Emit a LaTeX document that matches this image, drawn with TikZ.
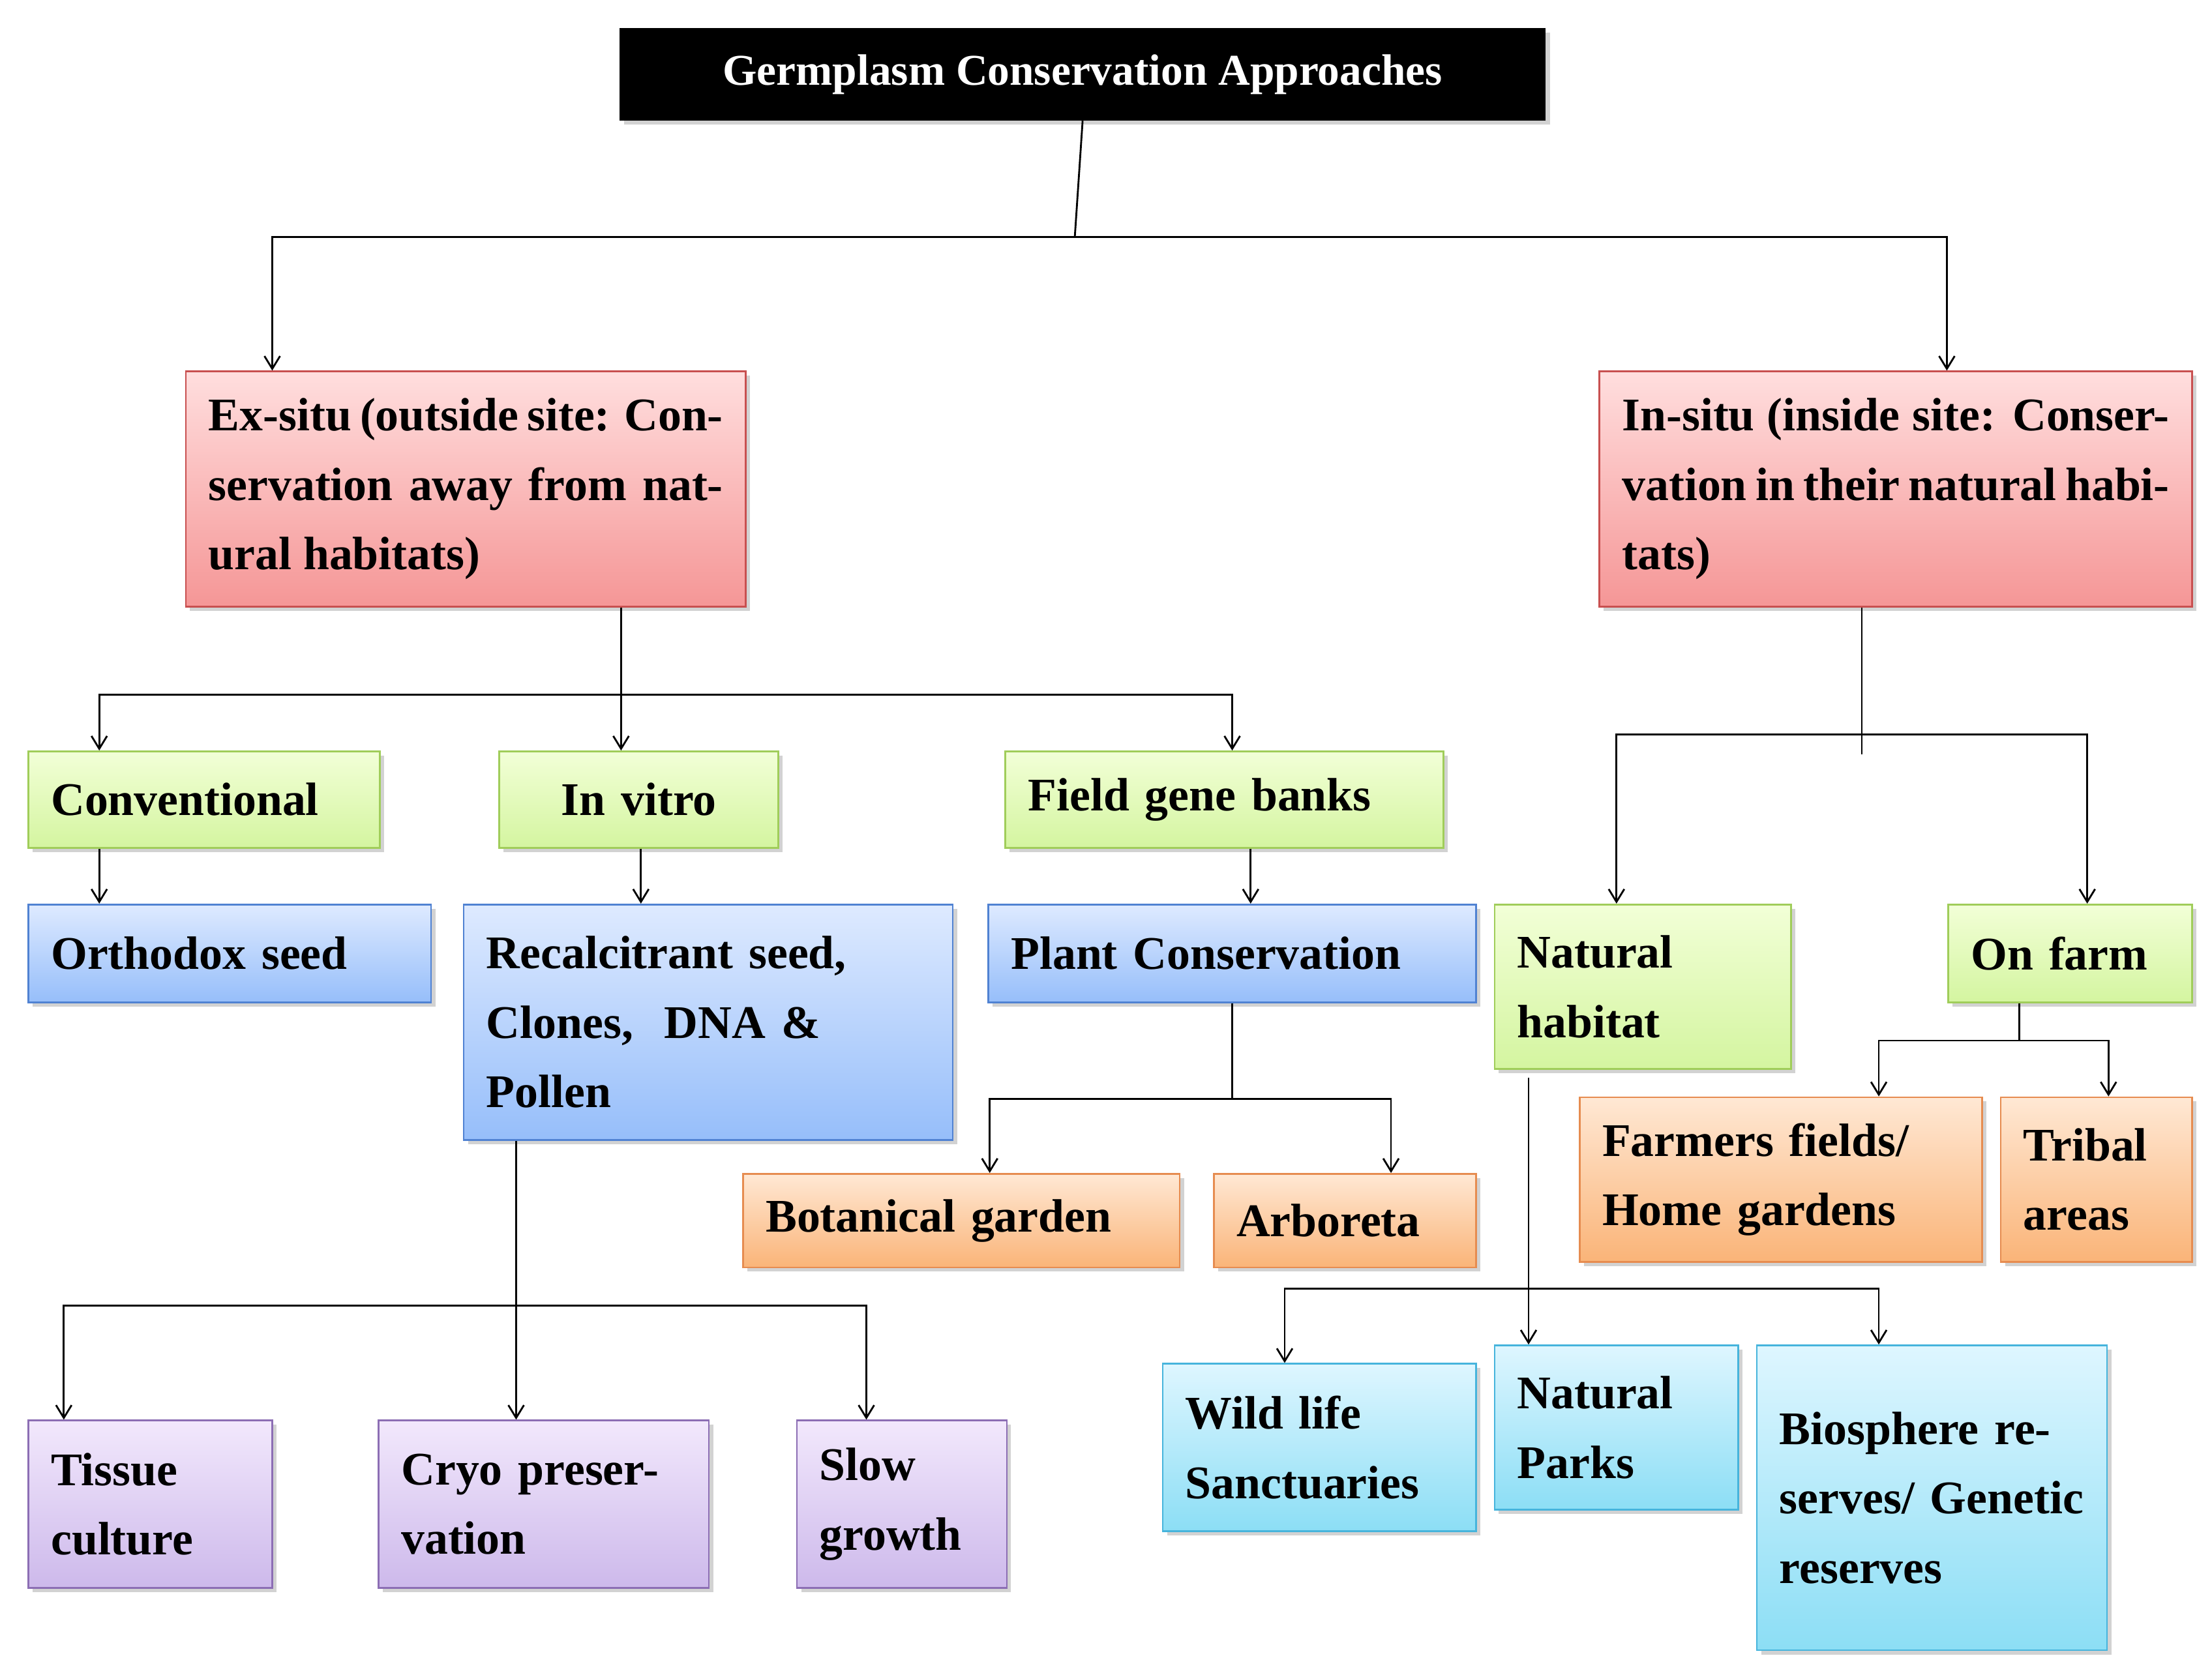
\documentclass[tikz,border=0pt]{standalone}
\usepackage{fontspec}
\setmainfont{Liberation Serif}
\usetikzlibrary{arrows.meta,shadows}
\definecolor{rT}{RGB}{255,222,222}\definecolor{rB}{RGB}{245,150,150}\definecolor{rD}{RGB}{200,80,80}
\definecolor{gT}{RGB}{242,255,215}\definecolor{gB}{RGB}{212,245,160}\definecolor{gD}{RGB}{160,205,90}
\definecolor{bT}{RGB}{222,234,255}\definecolor{bB}{RGB}{150,190,250}\definecolor{bD}{RGB}{80,130,210}
\definecolor{oT}{RGB}{255,232,212}\definecolor{oB}{RGB}{250,180,120}\definecolor{oD}{RGB}{230,140,80}
\definecolor{pT}{RGB}{242,232,252}\definecolor{pB}{RGB}{205,185,235}\definecolor{pD}{RGB}{140,110,180}
\definecolor{cT}{RGB}{222,246,255}\definecolor{cB}{RGB}{140,222,245}\definecolor{cD}{RGB}{70,180,220}
\tikzset{
 base/.style={rectangle,line width=1.2pt,font=\fontsize{33}{49}\selectfont\bfseries,inner xsep=16pt,inner ysep=4pt,drop shadow={shadow xshift=3pt,shadow yshift=-3pt,opacity=0.35}},
 red/.style={base,draw=rD,top color=rT,bottom color=rB},
 grn/.style={base,draw=gD,top color=gT,bottom color=gB},
 blu/.style={base,draw=bD,top color=bT,bottom color=bB},
 org/.style={base,draw=oD,top color=oT,bottom color=oB},
 pur/.style={base,draw=pD,top color=pT,bottom color=pB},
 cya/.style={base,draw=cD,top color=cT,bottom color=cB},
 arr/.style={line width=1.3pt,-{Straight Barb[length=9pt,width=11pt]}},
 ln/.style={line width=1.3pt}
}
\newcommand\bx[8][left]{%
 \pgfmathsetmacro\cx{(#4+#6)/2}\pgfmathsetmacro\cy{(#5+#7)/2}%
 \pgfmathsetmacro\ww{#6-#4}\pgfmathsetmacro\hh{#7-#5}\pgfmathsetmacro\tw{#6-#4-32}%
 \node[#3,minimum width=\ww pt,minimum height=\hh pt,text width=\tw pt,align=#1] (#2) at (\cx,\cy) {#8};}
\begin{document}
\begin{tikzpicture}[x=1pt,y=-1pt]
\useasboundingbox[fill=white] (0,0) rectangle (1560,1180);
\node[fill=black,text=white,minimum width=653pt,minimum height=65pt,font=\fontsize{31}{37}\selectfont\bfseries,drop shadow={shadow xshift=3pt,shadow yshift=-3pt,opacity=0.35}] (title) at (763.5,52.5) {Germplasm Conservation Approaches};
\bx[justify]{exsitu}{red}{131}{262}{526}{428}{Ex-situ (outside site: Conservation away from~natural~habitats)}
\bx[justify]{insitu}{red}{1128}{262}{1546}{428}{In-situ (inside site: Conservation in their natural habitats)}
\bx{conv}{grn}{20}{530}{268}{598}{Conventional}
\bx[center]{invitro}{grn}{352}{530}{549}{598}{In vitro}
\bx{field}{grn}{709}{530}{1018}{598}{Field gene banks}
\bx{ortho}{blu}{20}{638}{304}{707}{Orthodox seed}
\bx{recal}{blu}{327}{638}{672}{804}{Recalcitrant seed, Clones,\ \ DNA \& Pollen}
\bx{plant}{blu}{697}{638}{1041}{707}{Plant Conservation}
\bx{nathab}{grn}{1054}{638}{1263}{754}{Natural habitat}
\bx{onfarm}{grn}{1374}{638}{1546}{707}{On farm}
\bx{botan}{org}{524}{828}{832}{894}{Botanical garden}
\bx{arbor}{org}{856}{828}{1041}{894}{Arboreta}
\bx{farm}{org}{1114}{774}{1398}{890}{Farmers fields/ Home gardens}
\bx{tribal}{org}{1411}{774}{1546}{890}{Tribal areas}
\bx{tissue}{pur}{20}{1002}{192}{1120}{Tissue culture}
\bx{cryo}{pur}{267}{1002}{500}{1120}{Cryo preservation}
\bx{slow}{pur}{562}{1002}{710}{1120}{Slow growth}
\bx{wild}{cya}{820}{962}{1041}{1080}{Wild life Sanctuaries}
\bx{parks}{cya}{1054}{949}{1226}{1065}{Natural Parks}
\bx{bios}{cya}{1239}{949}{1486}{1164}{Biosphere reserves/ Genetic reserves}
% connectors
\draw[ln] (title.south) -- (758,167);
\draw[arr] (758,167) -| (192,0 |- exsitu.north);
\draw[arr] (758,167) -| (1373,0 |- insitu.north);
\draw[ln] (438,0 |- exsitu.south) -- (438,490);
\draw[arr] (438,490) -| (70,0 |- conv.north);
\draw[arr] (438,490) -- (438,0 |- invitro.north);
\draw[arr] (438,490) -| (869,0 |- field.north);
\draw[arr] (70,0 |- conv.south) -- (70,0 |- ortho.north);
\draw[arr] (452,0 |- invitro.south) -- (452,0 |- recal.north);
\draw[arr] (882,0 |- field.south) -- (882,0 |- plant.north);
\draw[ln] (1313,0 |- insitu.south) -- (1313,532);
\draw[arr] (1313,518) -| (1140,0 |- nathab.north);
\draw[arr] (1313,518) -| (1472,0 |- onfarm.north);
\draw[ln] (1424,0 |- onfarm.south) -- (1424,734);
\draw[arr] (1424,734) -| (1325,0 |- farm.north);
\draw[arr] (1424,734) -| (1487,0 |- tribal.north);
\draw[ln] (869,0 |- plant.south) -- (869,775);
\draw[arr] (869,775) -| (698,0 |- botan.north);
\draw[arr] (869,775) -| (981,0 |- arbor.north);
\draw[arr] (364,0 |- recal.south) -- (364,0 |- cryo.north);
\draw[arr] (364,921) -| (45,0 |- tissue.north);
\draw[arr] (364,921) -| (611,0 |- slow.north);
\draw[arr] (1078,760) -- (1078,0 |- parks.north);
\draw[arr] (1078,909) -| (906,0 |- wild.north);
\draw[arr] (1078,909) -| (1325,0 |- bios.north);
\end{tikzpicture}
\end{document}
